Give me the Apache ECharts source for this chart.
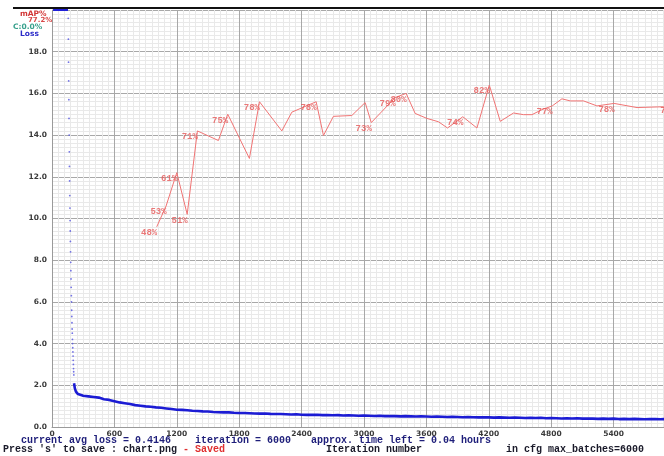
<!DOCTYPE html>
<html>
<head>
<meta charset="utf-8">
<script src="https://cdn.jsdelivr.net/npm/echarts@6/dist/echarts.min.js"></script>
<style>
html,body{margin:0;padding:0;background:#fff;}
#chart{width:664px;height:456px;}
</style>
</head>
<body>
<div id="chart"></div>
<script>
// ---- data ----
const mapIters = [1007,1097,1200,1300,1398,1600,1690,1898,1995,2210,2306,2540,2610,2706,2883,3011,3070,3300,3405,3492,3605,3716,3803,3950,4086,4205,4310,4438,4534,4615,4711,4810,4903,4983,5111,5240,5405,5625,5881,6000];
const mapVals  = [48,53,61,51,71,68.7,75,64.4,78,71,75.5,78,69.9,74.5,74.7,77.8,73,79,80,75.2,74,73.2,71.7,74.4,71.7,82,73.3,75.3,74.9,74.9,76.1,77,78.7,78.2,78.2,77,77.6,76.6,76.8,77.2];
const mapLabelIdx = [0,1,2,3,4,6,8,11,16,17,18,23,25,31,36,39];

const lossTopIters = [10,154];
const lossTopVals  = [20,20];

const lossEarlyIters = [156,157.5,159,160.5,162,163.5,165,166.5,168,169.5,171,172.5,174,175.5,177,178.5,180,181.5,183,184.5,186,187.5,189,190.5,192,193.5,195,196.5,198,199.5,201,202.5,204,205.5,207,208.5,210];
const lossEarlyVals  = [19.6,18.6,17.5,16.6,15.7,14.8,14.0,13.2,12.5,11.8,11.1,10.5,9.9,9.4,8.9,8.4,7.9,7.5,7.1,6.7,6.3,6.0,5.6,5.3,5.0,4.7,4.5,4.2,4.0,3.8,3.6,3.4,3.2,3.0,2.8,2.65,2.5];

const lossIters = [212,220,230,240,250,300,350,400,450,500,550,600,650,700,750,800,850,900,950,1000,1050,1100,1150,1200,1250,1300,1350,1400,1450,1500,1550,1600,1650,1700,1750,1800,1850,1900,1950,2000,2050,2100,2150,2200,2250,2300,2350,2400,2450,2500,2550,2600,2650,2700,2750,2800,2850,2900,2950,3000,3050,3100,3150,3200,3250,3300,3350,3400,3450,3500,3550,3600,3650,3700,3750,3800,3850,3900,3950,4000,4050,4100,4150,4200,4250,4300,4350,4400,4450,4500,4550,4600,4650,4700,4750,4800,4850,4900,4950,5000,5050,5100,5150,5200,5250,5300,5350,5400,5450,5500,5550,5600,5650,5700,5750,5800,5850,5900,5950,6000];
const lossVals  = [2.1,1.85,1.7,1.63,1.58,1.50,1.47,1.44,1.41,1.33,1.30,1.24,1.18,1.14,1.10,1.05,1.02,0.99,0.97,0.94,0.92,0.89,0.86,0.83,0.82,0.80,0.78,0.77,0.75,0.74,0.72,0.71,0.70,0.70,0.68,0.67,0.67,0.66,0.65,0.64,0.65,0.63,0.62,0.62,0.61,0.60,0.61,0.59,0.58,0.58,0.59,0.57,0.57,0.56,0.57,0.55,0.56,0.55,0.54,0.55,0.54,0.53,0.54,0.52,0.53,0.52,0.51,0.52,0.51,0.50,0.51,0.50,0.49,0.50,0.49,0.48,0.49,0.48,0.47,0.48,0.47,0.46,0.47,0.46,0.45,0.46,0.45,0.44,0.45,0.44,0.43,0.44,0.43,0.44,0.42,0.43,0.42,0.41,0.42,0.41,0.42,0.40,0.41,0.40,0.39,0.40,0.39,0.40,0.38,0.39,0.38,0.39,0.38,0.37,0.38,0.38,0.37,0.38,0.39,0.41];

const legendTexts = ['mAP%','77.2%','C:0.0%','Loss'];
const statusLine1 = ['current avg loss = 0.4146','iteration = 6000','approx. time left = 0.04 hours'];
const statusLine2 = ["Press 's' to save : chart.png", ' - Saved', 'Iteration number', 'in cfg max_batches=6000'];

// ---- build ----
const zip = (a,b) => a.map((v,i)=>[v,b[i]]);
const mapData = zip(mapIters, mapVals);
const mapLabelData = mapLabelIdx.map(i => [mapIters[i], mapVals[i]]);

const chart = echarts.init(document.getElementById('chart'), null, {renderer:'canvas'});
const axisFont = {fontFamily:'DejaVu Sans', fontSize:7.5, fontWeight:'bold', color:'#3a3a3a'};
const mono = '"Liberation Mono","DejaVu Sans Mono",monospace';

chart.setOption({
  animation:false,
  backgroundColor:'#ffffff',
  grid:{left:52, right:-12, top:10, bottom:29, containLabel:false, outerBoundsMode:'none'},
  xAxis:{
    type:'value', min:0, max:6000, interval:600,
    axisLine:{show:true, lineStyle:{color:'#9a9a9a', width:1}},
    axisTick:{show:false},
    axisLabel:Object.assign({margin:3, formatter:v => String(v)}, axisFont),
    splitLine:{show:true, lineStyle:{color:'#a8a8a8', width:1}},
    minorTick:{show:false, splitNumber:10},
    minorSplitLine:{show:true, lineStyle:{color:'#e9e9e9', width:1}}
  },
  yAxis:[{
    type:'value', min:0, max:20, interval:2,
    axisLine:{show:true, lineStyle:{color:'#9a9a9a', width:1}},
    axisTick:{show:false},
    axisLabel:Object.assign({margin:5, formatter:v => v>=20 ? '' : v.toFixed(1)}, axisFont),
    splitLine:{show:true, lineStyle:{color:'#a8a8a8', width:1}},
    minorTick:{show:false, splitNumber:10},
    minorSplitLine:{show:true, lineStyle:{color:'#e9e9e9', width:1}}
  },{
    type:'value', min:0, max:100, show:false, splitLine:{show:false}
  }],
  series:[
    {type:'line', yAxisIndex:1, data:mapData, symbol:'none', lineStyle:{color:'#f07474', width:1}, z:3},
    {type:'scatter', yAxisIndex:1, data:mapLabelData, symbolSize:1, itemStyle:{color:'rgba(0,0,0,0)'}, z:4,
      label:{show:true, position:[1,2], align:'right', verticalAlign:'top',
        formatter:p => Math.round(p.value[1])+'%',
        fontFamily:mono, fontSize:9, fontWeight:'bold', color:'#e65858'}},
    {type:'line', data:zip(lossTopIters, lossTopVals), symbol:'none', lineStyle:{color:'#2020d8', width:2}, z:5},
    {type:'scatter', data:zip(lossEarlyIters, lossEarlyVals), symbolSize:1.8, itemStyle:{color:'#5050e0'}, z:5},
    {type:'line', data:zip(lossIters, lossVals), symbol:'none', lineStyle:{color:'#1c1cd4', width:2.6}, z:5}
  ],
  graphic:[
    {type:'rect', left:13, top:7, shape:{width:651, height:2}, style:{fill:'#111'}, z:100},
    {type:'text', x:20, y:14, style:{text:legendTexts[0], font:'bold 7.5px "DejaVu Sans"', fill:'#d23838', verticalAlign:'middle', textVerticalAlign:'middle'}, z:100},
    {type:'text', x:28, y:20.5, style:{text:legendTexts[1], font:'bold 7px "DejaVu Sans"', fill:'#d84848', verticalAlign:'middle', textVerticalAlign:'middle'}, z:100},
    {type:'text', x:13, y:27.5, style:{text:legendTexts[2], font:'bold 7.5px "DejaVu Sans"', fill:'#38a08c', verticalAlign:'middle', textVerticalAlign:'middle'}, z:100},
    {type:'text', x:20, y:34.5, style:{text:legendTexts[3], font:'bold 7.5px "DejaVu Sans"', fill:'#2a2ac8', verticalAlign:'middle', textVerticalAlign:'middle'}, z:100},
    {type:'text', x:21, y:440, style:{text:statusLine1[0], font:'bold 10px '+mono, fill:'#1e1e7a', verticalAlign:'middle', textVerticalAlign:'middle'}, z:100},
    {type:'text', x:195, y:440, style:{text:statusLine1[1], font:'bold 10px '+mono, fill:'#1e1e7a', verticalAlign:'middle', textVerticalAlign:'middle'}, z:100},
    {type:'text', x:311, y:440, style:{text:statusLine1[2], font:'bold 10px '+mono, fill:'#1e1e7a', verticalAlign:'middle', textVerticalAlign:'middle'}, z:100},
    {type:'text', x:3, y:449.5, style:{text:statusLine2[0], font:'bold 10px '+mono, fill:'#1a1a2a', verticalAlign:'middle', textVerticalAlign:'middle'}, z:100},
    {type:'text', x:177, y:449.5, style:{text:statusLine2[1], font:'bold 10px '+mono, fill:'#e03030', verticalAlign:'middle', textVerticalAlign:'middle'}, z:100},
    {type:'text', x:326, y:449.5, style:{text:statusLine2[2], font:'bold 10px '+mono, fill:'#1a1a2a', verticalAlign:'middle', textVerticalAlign:'middle'}, z:100},
    {type:'text', x:506, y:449.5, style:{text:statusLine2[3], font:'bold 10px '+mono, fill:'#1a1a2a', verticalAlign:'middle', textVerticalAlign:'middle'}, z:100}
  ]
});
</script>
</body>
</html>
